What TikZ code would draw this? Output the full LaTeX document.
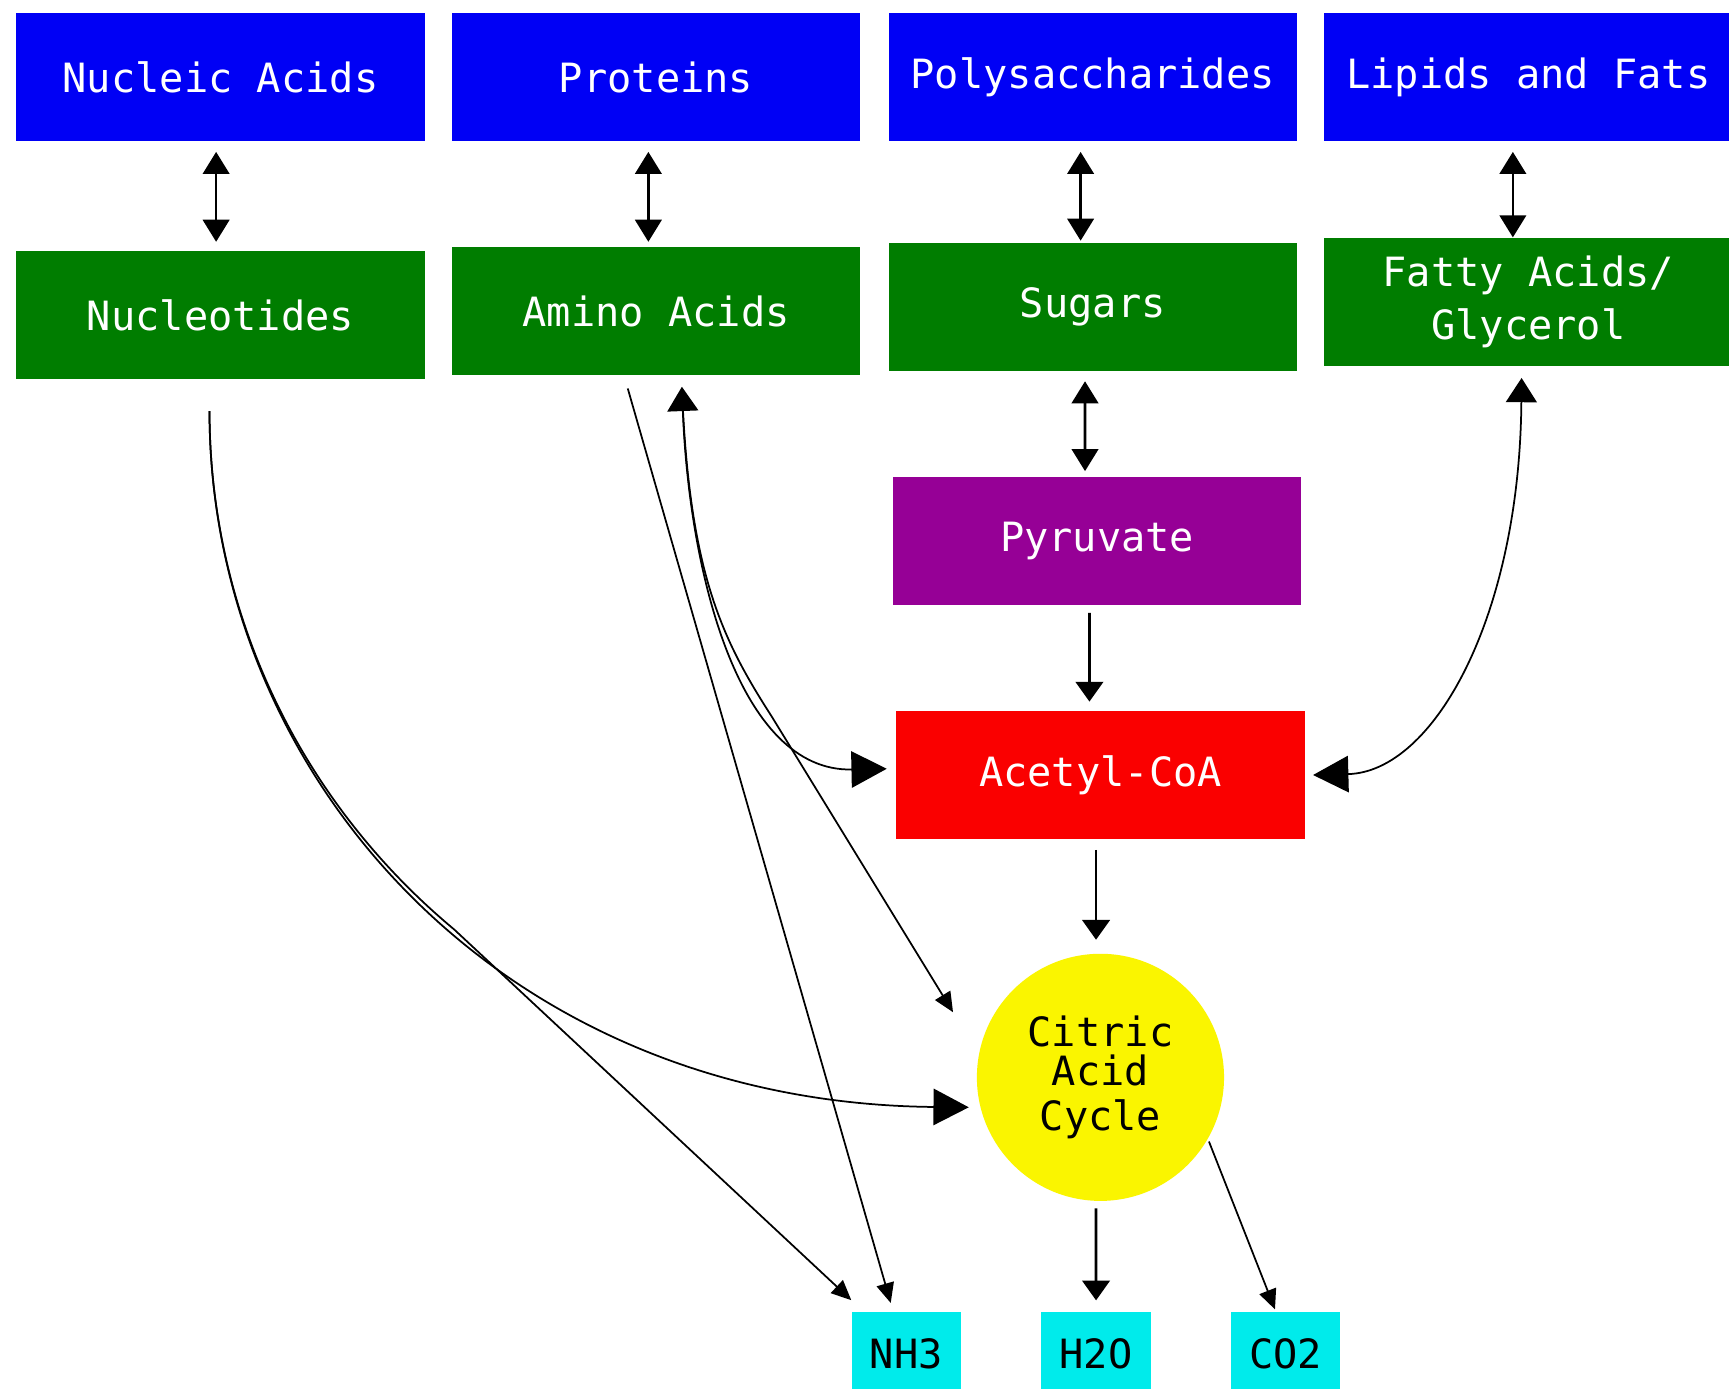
\documentclass[tikz,border=0pt]{standalone}
\usepackage{fontspec}
\setmainfont{DejaVu Sans Mono}
\usetikzlibrary{arrows.meta}
\definecolor{cblue}{RGB}{0,0,245}
\definecolor{cgreen}{RGB}{0,125,0}
\definecolor{cpurple}{RGB}{150,0,150}
\definecolor{cred}{RGB}{250,0,0}
\definecolor{cyell}{RGB}{250,245,0}
\definecolor{ccyan}{RGB}{0,235,235}
\begin{document}
\begin{tikzpicture}[x=0.01cm,y=-0.01cm,
  box/.style={rectangle, minimum width=3.7cm, minimum height=1.16cm, inner sep=0pt,
    text=white, font=\fontsize{10.4}{13.7}\selectfont, align=center},
  prod/.style={rectangle, fill=ccyan, minimum width=0.99cm, minimum height=0.76cm, inner sep=0pt,
    font=\fontsize{10.4}{13}\selectfont},
  dbl/.style={line width=0.7pt, {Triangle[length=0.2cm,width=0.24cm]}-{Triangle[length=0.2cm,width=0.24cm]}},
  one/.style={line width=0.7pt, -{Triangle[length=0.18cm,width=0.25cm]}},
  thin/.style={line width=0.45pt, -{Triangle[length=0.18cm,width=0.16cm]}},
  big/.style={line width=0.45pt, -{Triangle[length=0.32cm,width=0.33cm]}},
  bigdbl/.style={line width=0.45pt, {Triangle[length=0.22cm,width=0.28cm]}-{Triangle[length=0.32cm,width=0.33cm]}}
]
\useasboundingbox (0,0) rectangle (1568,1259);
\fill[white] (0,0) rectangle (1568,1259);

% top row
\node[box, fill=cblue] (nucleic) at (200,70) {Nucleic Acids};
\node[box, fill=cblue] (proteins) at (595,70) {Proteins};
\node[box, fill=cblue] (poly) at (991,70) {Polysaccharides};
\node[box, fill=cblue] (lipids) at (1386,70) {Lipids and Fats};
% second row
\node[box, fill=cgreen] (nucleotides) at (200,286) {Nucleotides};
\node[box, fill=cgreen] (amino) at (595,282) {Amino Acids};
\node[box, fill=cgreen] (sugars) at (991,278) {Sugars};
\node[box, fill=cgreen] (fatty) at (1386,274) {Fatty Acids/\\Glycerol};
% middle
\node[box, fill=cpurple] (pyruvate) at (995,491) {Pyruvate};
\node[box, fill=cred] (acetyl) at (998,703) {Acetyl-CoA};
\node[circle, fill=cyell, minimum size=2.24cm, inner sep=0pt, align=center,
      font=\fontsize{10.4}{11.6}\selectfont] (citric) at (998,977) {\raisebox{-0.05cm}{Citric}\\Acid\\Cycle};
% products
\node[prod] (nh3) at (822,1228) {NH3};
\node[prod] (h2o) at (994,1228) {H2O};
\node[prod] (co2) at (1166,1228) {CO2};

% vertical double arrows
\draw[dbl, shorten <=0.09cm, shorten >=0.08cm] ([xshift=-0.04cm]nucleic.south) -- ([xshift=-0.04cm]nucleotides.north);
\draw[dbl, shorten <=0.09cm, shorten >=0.04cm] ([xshift=-0.07cm]proteins.south) -- ([xshift=-0.07cm]amino.north);
\draw[dbl, shorten <=0.09cm, shorten >=0.01cm] ([xshift=-0.11cm]poly.south) -- ([xshift=-0.11cm]sugars.north);
\draw[dbl, shorten <=0.09cm] ([xshift=-0.14cm]lipids.south) -- ([xshift=-0.14cm]fatty.north);
\draw[dbl, shorten <=0.09cm, shorten >=0.05cm] ([xshift=-0.07cm]sugars.south) -- ([xshift=-0.11cm]pyruvate.north);

% single vertical arrows
\draw[one, shorten <=0.06cm, shorten >=0.08cm] ([xshift=-0.07cm]pyruvate.south) -- ([xshift=-0.10cm]acetyl.north);
\draw[one, shorten <=0.09cm, shorten >=0.12cm] ([xshift=-0.04cm]acetyl.south) -- ([xshift=-0.04cm]citric.north);
\draw[one, shorten <=0.06cm, shorten >=0.1cm] ([xshift=-0.04cm]citric.south) -- (h2o.north);
\draw[thin, shorten <=0.02cm, shorten >=0.02cm] (citric.-30) -- ([xshift=-0.09cm]co2.north);

% fatty acids <-> acetyl-CoA
\draw[bigdbl, shorten <=0.1cm, shorten >=0.07cm] ([xshift=-0.06cm]fatty.south)
  .. controls (1378,560) and (1300,700) .. (acetyl.east);

% amino acids <-> acetyl-CoA
\draw[bigdbl, shorten <=0.1cm, shorten >=0.08cm] ([xshift=0.23cm]amino.south)
  .. controls (625,520) and (670,700) .. ([yshift=0.06cm]acetyl.west);
% amino acids -> citric acid cycle
\draw[thin, shorten <=0.12cm, shorten >=0.44cm] ([xshift=0.23cm]amino.south)
  .. controls (625,520) and (655,580) .. (700,650) -- (citric.169);
% amino acids -> NH3
\draw[thin, shorten <=0.12cm, shorten >=0.08cm] ([xshift=-0.29cm]amino.south) -- ([xshift=-0.12cm]nh3.north);

% nucleotides -> citric acid cycle
\draw[big, shorten <=0.28cm, shorten >=0.1cm] ([xshift=-0.10cm]nucleotides.south)
  .. controls (190,700) and (450,1000) .. (citric.194);
% nucleotides -> NH3
\draw[thin, shorten <=0.28cm, shorten >=0.15cm] ([xshift=-0.10cm]nucleotides.south)
  .. controls (190,552) and (269,724) .. (412,843) -- ([xshift=-0.39cm]nh3.north);
\end{tikzpicture}
\end{document}
